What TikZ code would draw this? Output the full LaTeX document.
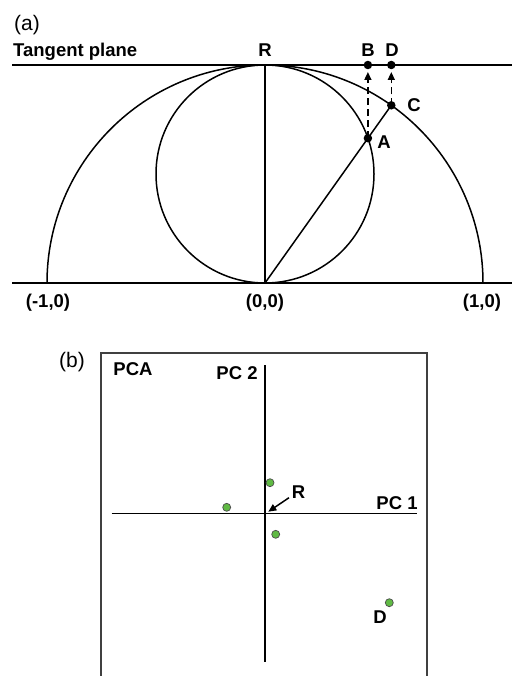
\documentclass[tikz,border=0pt]{standalone}
\usepackage{fontspec}
\setmainfont{Liberation Sans}
\usetikzlibrary{arrows.meta}
\definecolor{dotgreen}{RGB}{96,186,68}
\begin{document}
\begin{tikzpicture}[x=1pt,y=-1pt,
  line/.style={line width=1.5pt,black},
  lbl/.style={font=\fontsize{18.5}{21}\selectfont\bfseries,inner sep=0pt},
  panel/.style={font=\fontsize{21}{24}\selectfont,inner sep=0pt},
  bdot/.style={circle,fill=black,inner sep=0pt,minimum size=8.5pt},
  gdot/.style={circle,fill=dotgreen,draw=black!70,line width=0.7pt,inner sep=0pt,minimum size=8pt},
  proj/.style={line width=1.5pt,dash pattern=on 7pt off 4pt,-{Triangle[length=8pt,width=7pt]}}
]
\useasboundingbox (0,0) rectangle (512,676);
% ---------- panel (a) ----------
\node[panel] (pa) at (27,25) {(a)};
\coordinate (O) at (265,283);
\coordinate (R) at (265,65);
\coordinate (M) at (265,174);
\coordinate (TL) at (12,65);
\coordinate (TR) at (512,65);
\coordinate (BL) at (12,283);
\coordinate (BR) at (512,283);
\draw[line] (TL) -- (TR);
\draw[line] (BL) -- (BR);
\draw[line] (O) ++(-218,0) arc[start angle=180,end angle=360,radius=218];
\draw[line] (M) circle[radius=109];
\draw[line] (O) -- (R);
\coordinate (A) at (367.9,138.2);
\coordinate (C) at (391.3,105.3);
\coordinate (B) at (367.9,65);
\coordinate (D) at (391.3,65);
\coordinate (Bt) at (367.9,72);
\coordinate (Dt) at (391.3,72);
\draw[line] (O) -- (C);
\draw[proj] (A) -- (Bt);
\draw[proj] (C) -- (Dt);
\node[bdot] (nA) at (A) {};
\node[bdot] (nB) at (B) {};
\node[bdot] (nC) at (C) {};
\node[bdot] (nD) at (D) {};
\node[lbl,anchor=west] (tp) at (13,52) {Tangent plane};
\node[lbl] (lR) at (265,50) {R};
\node[lbl] (lB) at (368,50) {B};
\node[lbl] (lD) at (392,50) {D};
\node[lbl] (lC) at (414,105) {C};
\node[lbl] (lA) at (384,142) {A};
\node[lbl] (m1) at (48,303) {(-1,0)};
\node[lbl] (z0) at (265,303) {(0,0)};
\node[lbl] (p1) at (482,303) {(1,0)};
% ---------- panel (b) ----------
\node[panel] (pb) at (72,362) {(b)};
\draw[line,black!75,line width=1.6pt] (100.7,676) |- (426.7,352.7) -- (426.7,676);
\coordinate (Vt) at (265,365);
\coordinate (Vb) at (265,662);
\coordinate (Hl) at (111.7,513.7);
\coordinate (Hr) at (416.7,513.7);
\draw[line] (Vt) -- (Vb);
\draw[line] (Hl) -- (Hr);
\node[lbl] (pca) at (133,369) {PCA};
\node[lbl] (pc2) at (237,373) {PC 2};
\node[lbl] (pc1) at (397,503) {PC 1};
\node[gdot] (g1) at (270,482.7) {};
\node[gdot] (g2) at (226.7,507.3) {};
\node[gdot] (g3) at (275.7,534.3) {};
\node[gdot] (g4) at (389.3,602.7) {};
\node[lbl] (rb) at (298.5,492.5) {R};
\coordinate (Rtip) at (268.3,511.7);
\draw[line,-{Triangle[length=8pt,width=7pt]}] (289,497.7) -- (Rtip);
\node[lbl] (db) at (380,617.3) {D};
\end{tikzpicture}
\end{document}
